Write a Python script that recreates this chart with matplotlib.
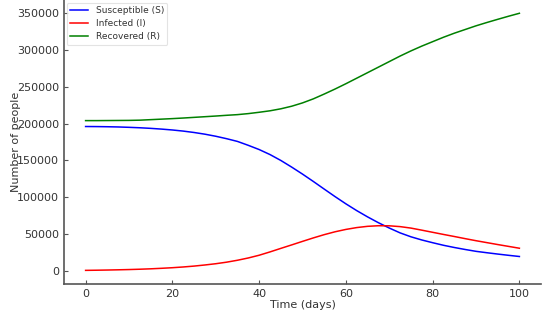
import matplotlib
matplotlib.use("Agg")
import matplotlib.pyplot as plt

# values, every 2.5 days
days = [0, 2.5, 5, 7.5, 10, 12.5, 15, 17.5, 20, 22.5, 25, 27.5, 30, 32.5, 35, 37.5, 40,
        42.5, 45, 47.5, 50, 52.5, 55, 57.5, 60, 62.5, 65, 67.5, 70, 72.5, 75, 77.5, 80,
        82.5, 85, 87.5, 90, 92.5, 95, 97.5, 100]
susceptible = [196000, 195900, 195700, 195400, 194900, 194300, 193500, 192500, 191300, 189800,
               187900, 185600, 182800, 179500, 175800, 170500, 164800, 158000, 150000, 141000,
               131500, 121500, 111200, 101000, 91200, 82000, 73500, 65600, 58400, 51800,
               46500, 42200, 38500, 35000, 32000, 29300, 26800, 24900, 23100, 21400, 19800]
infected = [1000, 1200, 1450, 1750, 2100, 2550, 3100, 3800, 4600, 5600,
            6800, 8300, 10000, 12100, 14700, 17800, 21500, 26000, 30800, 35500,
            40300, 45000, 49400, 53300, 56500, 59000, 60700, 61500, 61400, 60300,
            58300, 55500, 52600, 49700, 46900, 44000, 41200, 38600, 36000, 33500, 31000]
recovered = [204000, 204000, 204100, 204200, 204300, 204600, 205300, 206000, 206700, 207500,
             208400, 209300, 210200, 211200, 212100, 213500, 215300, 217300, 220000, 223500,
             228000, 233500, 240000, 246800, 254000, 261500, 269000, 276500, 284000, 291500,
             298500, 305000, 311000, 317000, 322500, 327500, 332500, 337000, 341300, 345500, 349500]

plt.rcParams['font.family'] = 'DejaVu Sans'
plt.rcParams['font.size'] = 8

fig = plt.figure(figsize=(5.51, 3.14), dpi=100)
ax = fig.add_axes([0.116, 0.0955, 0.866, 0.9045])

ax.plot(days, susceptible, color='blue', lw=1.1, label='Susceptible (S)')
ax.plot(days, infected, color='red', lw=1.1, label='Infected (I)')
ax.plot(days, recovered, color='green', lw=1.1, label='Recovered (R)')

ax.set_xlim(-5, 105)
ax.set_ylim(-17500, 367500)
ax.set_xticks([0, 20, 40, 60, 80, 100])
ax.set_yticks([0, 50000, 100000, 150000, 200000, 250000, 300000, 350000])

for side in ['top', 'right']:
    ax.spines[side].set_visible(False)
for side in ['left', 'bottom']:
    ax.spines[side].set_color('#555555')
    ax.spines[side].set_linewidth(1.2)
ax.tick_params(direction='in', length=3, width=0.8, color='#555555', labelcolor='#333333', labelsize=8)

ax.set_xlabel('Time (days)', color='#333333', fontsize=8, labelpad=1)
ax.set_ylabel('Number of people', color='#333333', fontsize=8, labelpad=-3)

leg = ax.legend(loc='upper left', fontsize=6.5, frameon=True, borderaxespad=0.3,
                handlelength=2.0, labelspacing=0.45)
leg.get_frame().set_edgecolor('#dddddd')
leg.get_frame().set_linewidth(0.8)
for t in leg.get_texts():
    t.set_color('#333333')

fig.savefig('out.png', dpi=100)
